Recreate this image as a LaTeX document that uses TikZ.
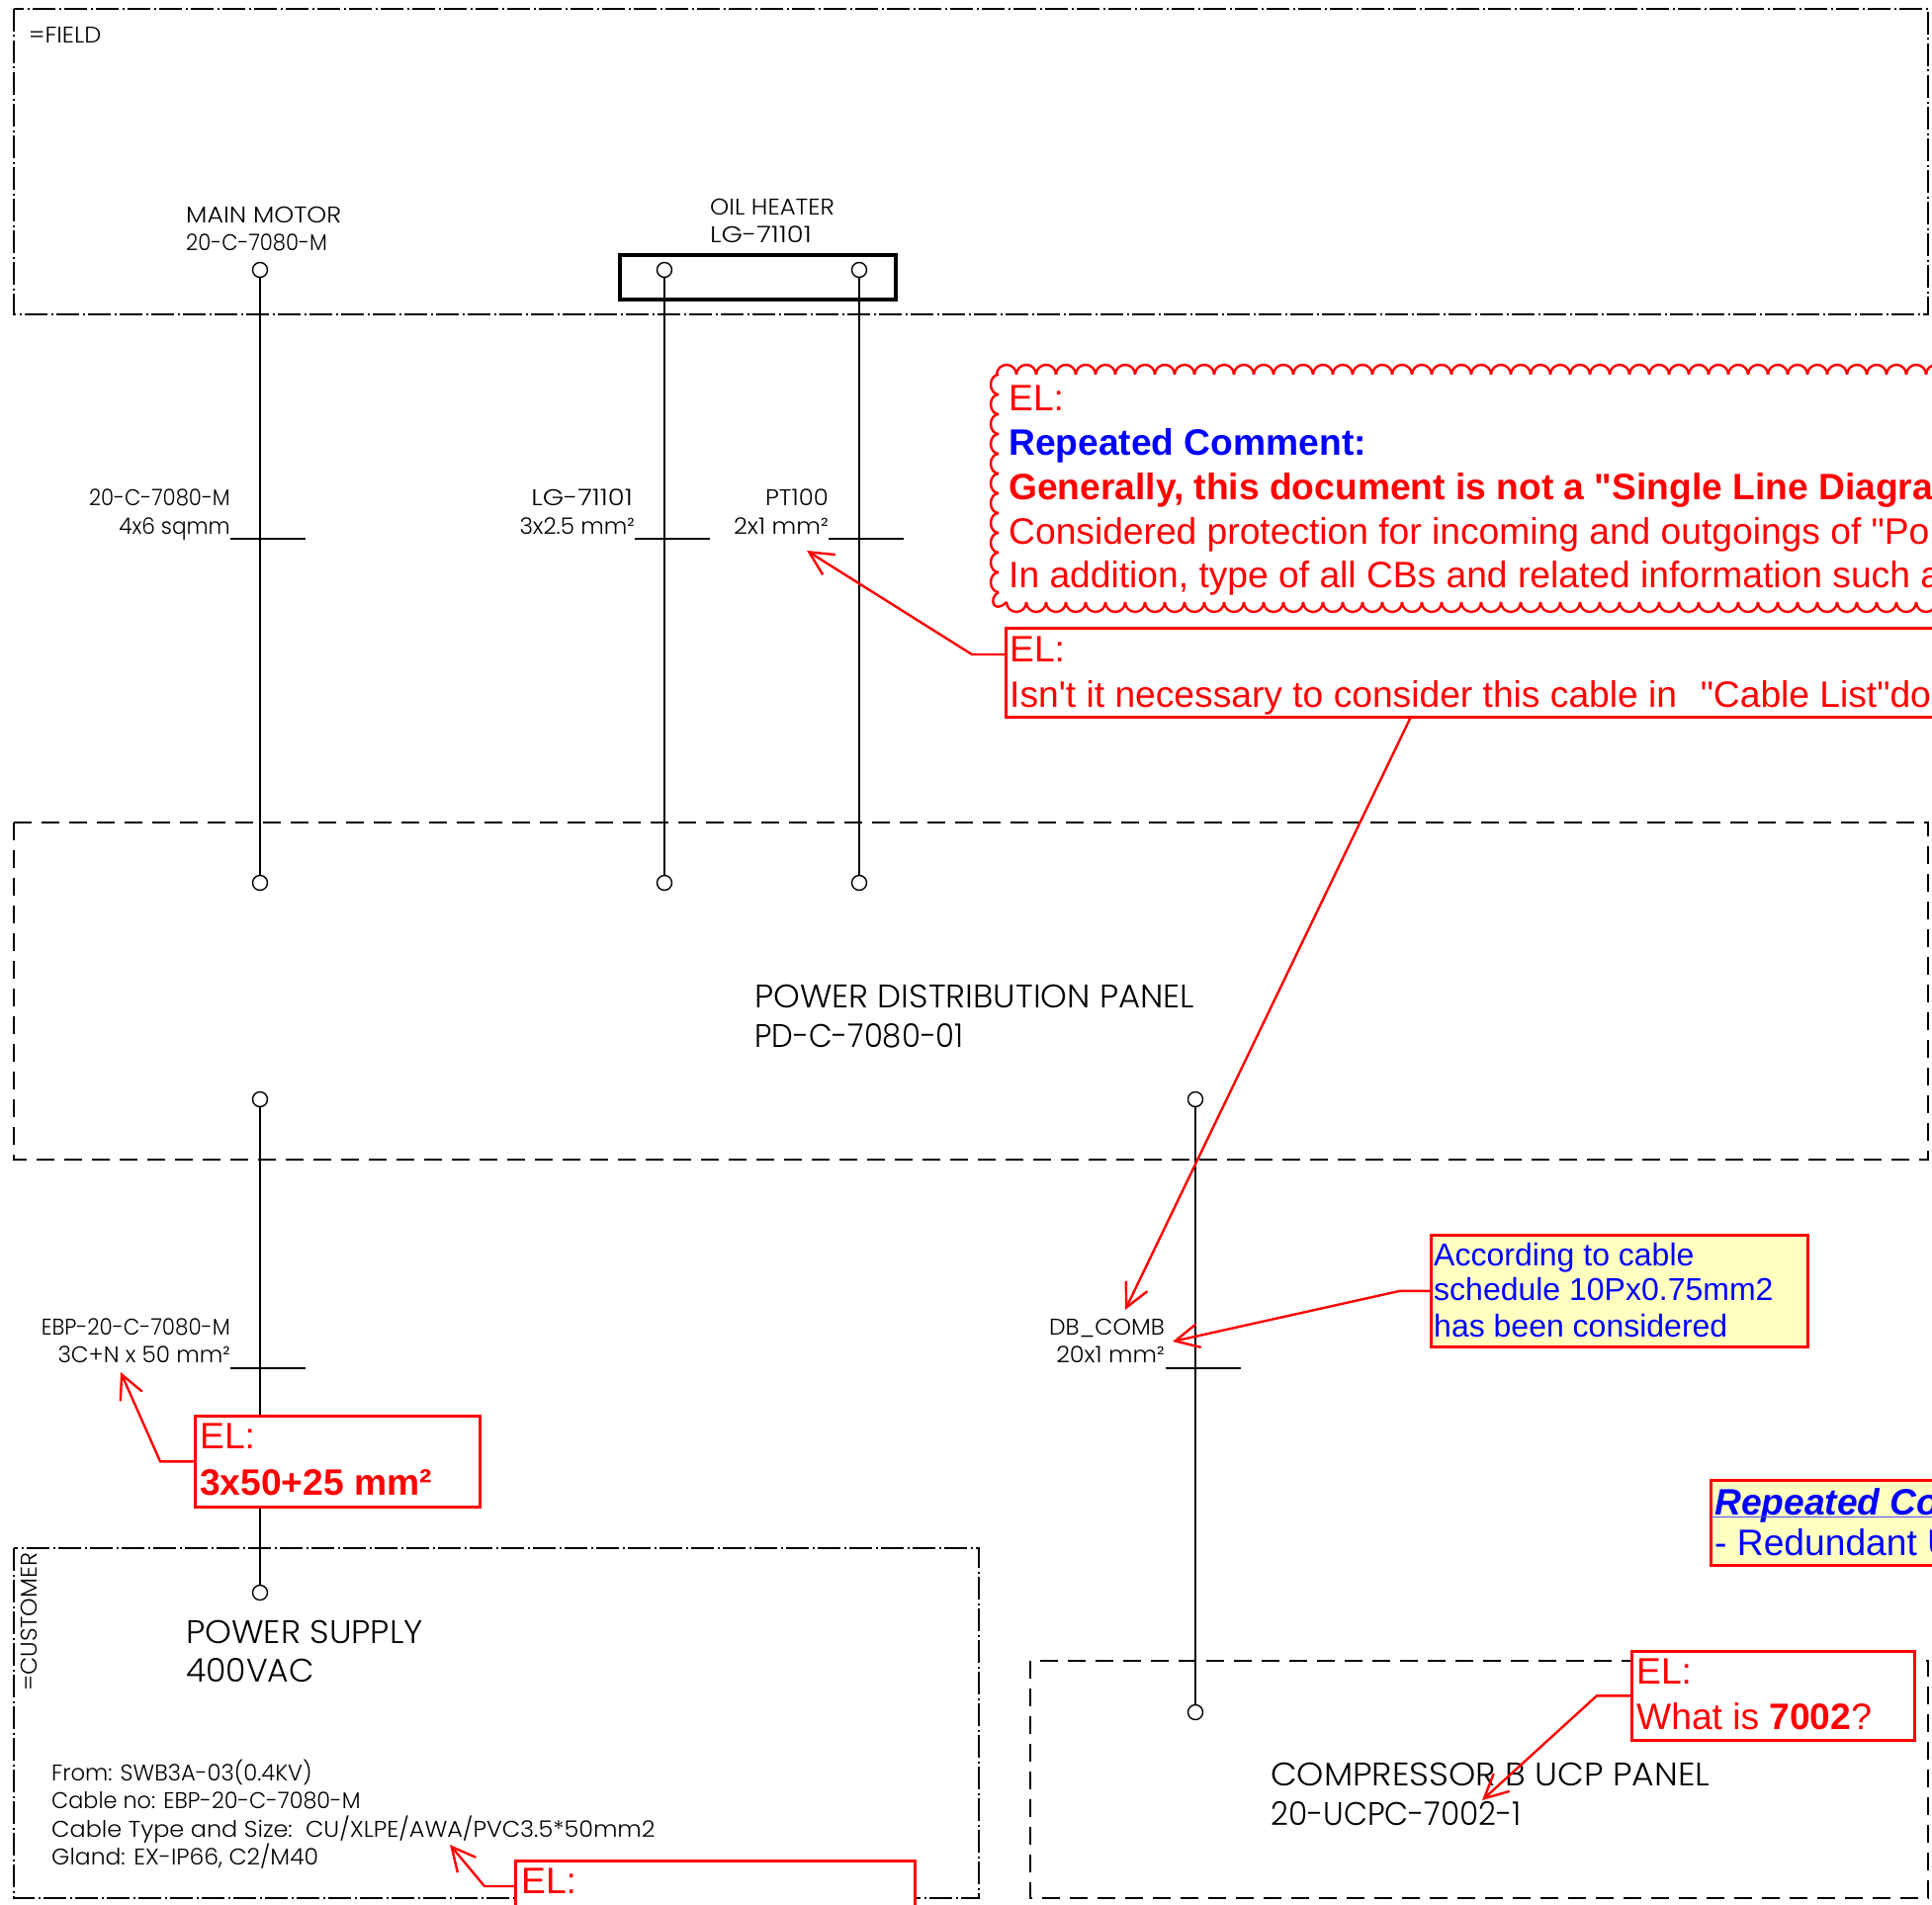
\documentclass[tikz,border=0pt]{standalone}
\usepackage{fontspec}
\setmainfont{Liberation Sans}[Ligatures=TeXOff]
\newfontfamily\gothic{Poppins Light}
\usetikzlibrary{arrows.meta}
\definecolor{noteyellow}{HTML}{FFFFC0}
\definecolor{noteblue}{HTML}{0000FF}
\newcommand{\sx}[2]{\scalebox{#1}[1]{#2}}
\tikzset{
 x=1pt,y=-1pt,
 dashdot/.style={draw=black,line width=1.7pt,dash pattern=on 23pt off 3.5pt on 2pt off 3.5pt},
 dashbox/.style={draw=black,line width=1.7pt,dash pattern=on 18pt off 10pt},
 wire/.style={draw=black,line width=1.2pt},
 tick/.style={draw=black,line width=1.5pt},
 term/.style={circle,draw=black,line width=1.4pt,fill=white,minimum size=15pt,inner sep=0pt},
 cad/.style={anchor=base west,inner sep=0pt,font=\gothic\fontsize{23}{23}\selectfont,text=black},
 cadr/.style={anchor=base east,inner sep=0pt,font=\gothic\fontsize{23}{23}\selectfont,text=black},
 cadbig/.style={anchor=base west,inner sep=0pt,font=\gothic\fontsize{33}{33}\selectfont,text=black},
 rtxt/.style={anchor=base west,inner sep=0pt,font=\fontsize{37.2}{37.2}\selectfont,text=red},
 rbold/.style={rtxt,font=\bfseries\fontsize{37.2}{37.2}\selectfont},
 btxt/.style={anchor=base west,inner sep=0pt,font=\fontsize{32}{32}\selectfont,text=noteblue},
 redbox/.style={draw=red,line width=2.6pt,fill=white,anchor=north west,inner sep=0pt},
 yelbox/.style={draw=red,line width=2.6pt,fill=noteyellow,anchor=north west,inner sep=0pt},
 leader/.style={draw=red,line width=2.4pt,-{Straight Barb[length=24pt,width=24pt,line width=2.4pt]}},
 cloudline/.style={draw=red,line width=2.4pt},
}
\begin{document}
\begin{tikzpicture}
\useasboundingbox (0,0) rectangle (1954,1927);
\clip (0,0) rectangle (1954,1927);
% zones
\draw[dashdot] (14,9) rectangle (1950,318);
\draw[dashbox] (14,832) rectangle (1950,1173);
\draw[dashdot] (14,1566) rectangle (990,1920);
\draw[dashbox] (1042,1680) rectangle (1950,1920);
\draw[black,line width=3.2pt] (627,258) rectangle (906,303);
% terminals
\node[term] (m1) at (263,273) {};
\node[term] (m2) at (263,893) {};
\node[term] (h1) at (672,273) {};
\node[term] (h2) at (672,893) {};
\node[term] (p1) at (869,273) {};
\node[term] (p2) at (869,893) {};
\node[term] (s1) at (263,1112) {};
\node[term] (s2) at (263,1611) {};
\node[term] (d1) at (1209,1112) {};
\node[term] (d2) at (1209,1732) {};
\draw[wire] (m1) -- (m2);
\draw[wire] (h1) -- (h2);
\draw[wire] (p1) -- (p2);
\draw[wire] (s1) -- (s2);
\draw[wire] (d1) -- (d2);
% ticks
\coordinate (t1a) at (233,545); \coordinate (t1b) at (309,545);
\coordinate (t2a) at (642,545); \coordinate (t2b) at (718,545);
\coordinate (t3a) at (838,545); \coordinate (t3b) at (914,545);
\coordinate (t4a) at (233,1384); \coordinate (t4b) at (309,1384);
\coordinate (t5a) at (1179,1384); \coordinate (t5b) at (1255,1384);
\draw[tick] (t1a) -- (t1b);
\draw[tick] (t2a) -- (t2b);
\draw[tick] (t3a) -- (t3b);
\draw[tick] (t4a) -- (t4b);
\draw[tick] (t5a) -- (t5b);
% CAD text
\node[cad] (tfield) at (29,44) {\sx{1.05}{=FIELD}};
\node[cad] (tmm1) at (188,225) {\sx{1.10}{MAIN MOTOR}};
\node[cad] (tmm2) at (188,253) {\sx{.92}{20-C-7080-M}};
\node[cad] (toh1) at (718,217) {\sx{1.06}{OIL HEATER}};
\node[cad] (toh2) at (718,245) {\sx{1.19}{LG-71101}};
\node[cadr] (tc1a) at (233,511) {\sx{.92}{20-C-7080-M}};
\node[cadr] (tc1b) at (233,540) {\sx{.94}{4x6 sqmm}};
\node[cadr] (tc2a) at (640,511) {\sx{1.19}{LG-71101}};
\node[cadr] (tc2b) at (642,540) {\sx{1.0}{3x2.5 mm²}};
\node[cadr] (tc3a) at (838,511) {\sx{1.06}{PT100}};
\node[cadr] (tc3b) at (838,540) {\sx{1.05}{2x1 mm²}};
\node[cadr] (tc4a) at (233,1350) {\sx{.93}{EBP-20-C-7080-M}};
\node[cadr] (tc4b) at (233,1378) {\sx{1.0}{3C+N x 50 mm²}};
\node[cadr] (tc5a) at (1178,1350) {\sx{1.02}{DB\_COMB}};
\node[cadr] (tc5b) at (1178,1378) {\sx{1.04}{20x1 mm²}};
\node[cadbig] (tpd1) at (763,1019) {\sx{1.03}{POWER DISTRIBUTION PANEL}};
\node[cadbig] (tpd2) at (763,1059) {\sx{.93}{PD-C-7080-01}};
\node[cadbig] (tps1) at (188,1662) {\sx{1.035}{POWER SUPPLY}};
\node[cadbig] (tps2) at (188,1701) {\sx{1.0}{400VAC}};
\node[cadbig] (tcp1) at (1285,1806) {\sx{1.05}{COMPRESSOR B UCP PANEL}};
\node[cadbig] (tcp2) at (1285,1846) {\sx{.945}{20-UCPC-7002-1}};
\node[cad] (tfrom) at (52,1801) {\sx{.985}{From: SWB3A-03(0.4KV)}};
\node[cad] (tcno) at (52,1829) {\sx{.97}{Cable no: EBP-20-C-7080-M}};
\node[cad] (tct) at (52,1858) {\sx{1.04}{Cable Type and Size:\ \ CU/XLPE/AWA/PVC3.5*50mm2}};
\node[cad] (tgl) at (52,1886) {\sx{1.02}{Gland: EX-IP66, C2/M40}};
\node[cad,rotate=90] (tcust) at (37,1711) {\sx{1.03}{=CUSTOMER}};
% cloud
\foreach \i in {0,...,48} { \draw[cloudline] ({1008+20*\i},379) arc[start angle=180,end angle=0,radius=10pt]; }
\foreach \i in {0,...,47} { \draw[cloudline] ({1018+20*\i},609) arc[start angle=180,end angle=360,radius=10pt]; }
\foreach \i in {0,...,10} { \draw[cloudline] (1010,{379+20*\i}) arc[start angle=90,end angle=270,x radius=8pt,y radius=10pt]; }
\draw[cloudline] (1008,379) -- (1010,379);
\draw[cloudline] (1010,599) .. controls (999,605) and (1005,622) .. (1018,609);
% comment text
\node[rtxt] (c1) at (1020,415) {EL:};
\node[rbold,text=noteblue] (c2) at (1020,460) {Repeated Comment:};
\node[rbold] (c3) at (1020,505) {Generally, this document is not a "Single Line Diagra};
\node[rtxt] (c4) at (1020,550) {Considered protection for incoming and outgoings of "Po};
\node[rtxt] (c5) at (1020,594) {In addition, type of all CBs and related information such a};
% box with cable list
\node[redbox,minimum width=1100pt,minimum height=90pt] (bcl) at (1016,634) {};
\node[rtxt] (bcl1) at (1021,669) {EL:};
\node[rtxt] (bcl2) at (1021,715) {Isn't it necessary to consider this cable in\ \ \hspace{3pt}"Cable List"do};
\coordinate (a1) at (816,557);
\coordinate (bcll) at (1017,662); \coordinate (bclb) at (1427,725);
\coordinate (a2) at (1138,1325);
\draw[leader] (bcll) -- ++(-34,0) -- (a1);
\draw[leader] (bclb) -- (a2);
% yellow note
\node[yelbox,minimum width=381pt,minimum height=113pt] (bn) at (1446,1248) {};
\node[btxt] (bn1) at (1450,1280) {According to cable};
\node[btxt] (bn2) at (1450,1315) {schedule 10Px0.75mm2};
\node[btxt] (bn3) at (1450,1352) {has been considered};
\coordinate (a3) at (1186,1357);
\draw[leader] (bn.west) -- ++(-30,0) -- (a3);
% 3x50 box
\node[redbox,minimum width=288pt,minimum height=92pt] (b3) at (196,1431) {};
\node[rtxt] (b3a) at (202,1465) {EL:};
\node[rbold] (b3b) at (202,1512) {3x50+25 mm²};
\coordinate (a4) at (122,1388);
\draw[leader] (b3.west) -- ++(-34,0) -- (a4);
% repeated box
\node[yelbox,minimum width=500pt,minimum height=86pt] (br) at (1729,1496) {};
\node[rbold,text=noteblue,font=\bfseries\itshape\fontsize{37.2}{37.2}\selectfont] (br1) at (1734,1532) {Repeated Co};
\coordinate (ula) at (1731,1534); \coordinate (ulb) at (1954,1534);
\draw[noteblue!70,line width=1pt] (ula) -- (ulb);
\node[rtxt,text=noteblue] (br2) at (1734,1573) {- Redundant U};
% 7002 box
\node[redbox,minimum width=286pt,minimum height=90pt] (b7) at (1649,1669) {};
\node[rtxt] (b7a) at (1655,1703) {EL:};
\node[rtxt] (b7b) at (1655,1749) {What is \textbf{7002}?};
\coordinate (a5) at (1499,1821);
\draw[leader] (b7.west) -- ++(-34,0) -- (a5);
% lower box
\node[redbox,minimum width=404pt,minimum height=120pt] (bl) at (520,1881) {};
\node[rtxt] (bl1) at (527,1915) {EL:};
\coordinate (bll) at (520,1908);
\coordinate (a6) at (455,1866);
\draw[leader] (bll) -- ++(-30,0) -- (a6);
\end{tikzpicture}
\end{document}
